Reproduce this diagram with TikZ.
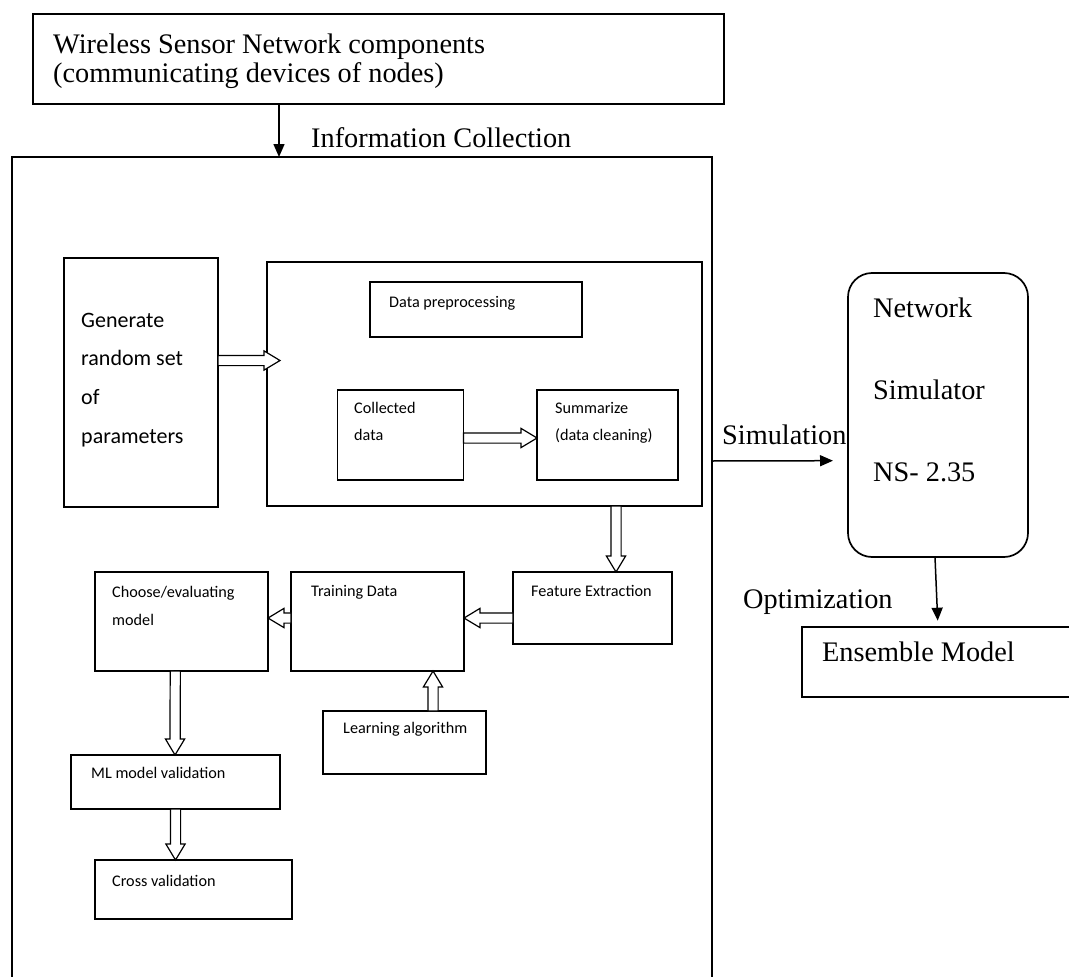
\documentclass[tikz,border=0pt]{standalone}
\usepackage{fontspec}
\setmainfont{Liberation Serif}
\newfontfamily\calib{Carlito}
\usetikzlibrary{arrows.meta,shapes.arrows,calc}

\begin{document}
\begin{tikzpicture}[x=1pt,y=-1pt,
  frame/.style={draw, line width=1.7pt, inner sep=0pt, outer sep=0pt, anchor=north west},
  lbl/.style={anchor=base west, inner sep=0pt},
  serif/.style={lbl, font=\fontsize{28.3}{32}\selectfont},
  bigsans/.style={lbl, font=\calib\fontsize{22}{25}\selectfont},
  smallsans/.style={lbl, font=\calib\fontsize{16.2}{19}\selectfont},
  arr/.style={line width=1.5pt, -{Triangle[length=13pt,width=11pt]}},
  hollowarrow/.style={single arrow, draw, fill=white, line width=1.2pt,
    single arrow head extend=4.5pt, single arrow head indent=0pt,
    single arrow tip angle=62, inner sep=0pt, outer sep=0pt, minimum width=1pt},
  hollow/.style={to path={
    let \p1=(\tikztostart), \p2=(\tikztotarget),
        \n1={atan2(\y2-\y1,\x2-\x1)},
        \n2={veclen(\x2-\x1,\y2-\y1)}
    in node[hollowarrow, minimum height=\n2, rotate=\n1, anchor=tail] at (\p1) {\rule{0pt}{9pt}}
  }}
]
\useasboundingbox[fill=white] (0,0) rectangle (1069,977);

% boxes
\node[frame, minimum width=691, minimum height=90] (wsn) at (33,14) {};
\node[frame, minimum width=700, minimum height=900] (main) at (12,157) {};
\node[frame, minimum width=154, minimum height=249] (gen) at (64,258) {};
\node[frame, minimum width=435, minimum height=244] (pre) at (267,262) {};
\node[frame, minimum width=212, minimum height=55] (dp) at (370,282) {};
\node[frame, minimum width=126, minimum height=90] (col) at (337.5,390) {};
\node[frame, minimum width=141, minimum height=90] (sum) at (537,390) {};
\node[frame, minimum width=159, minimum height=72] (feat) at (513,572) {};
\node[frame, minimum width=173, minimum height=99] (train) at (291,572) {};
\node[frame, minimum width=173, minimum height=99] (choose) at (95,572) {};
\node[frame, minimum width=163, minimum height=63] (learn) at (323,711) {};
\node[frame, minimum width=209, minimum height=54] (ml) at (71,755) {};
\node[frame, minimum width=197, minimum height=59] (cross) at (95,860) {};
\node[frame, minimum width=180, minimum height=284, rounded corners=24pt] (ns) at (848,273) {};
\node[frame, minimum width=300, minimum height=70] (ens) at (802,627) {};

% texts
\node[serif] (wsn1) at (53,53) {Wireless Sensor Network components};
\node[serif] (wsn2) at (53,82) {(communicating devices of nodes)};
\node[serif] (info) at (311,147) {Information Collection};
\node[bigsans] (gen1) at (81,327) {Generate};
\node[bigsans] (gen2) at (81,365) {random set};
\node[bigsans] (gen3) at (81,404) {of};
\node[bigsans] (gen4) at (81,443) {parameters};
\node[smallsans] (dpt) at (389,307) {Data preprocessing};
\node[smallsans] (col1) at (354,413) {Collected};
\node[smallsans] (col2) at (354,440) {data};
\node[smallsans] (sum1) at (555,413) {Summarize};
\node[smallsans] (sum2) at (555,440) {(data cleaning)};
\node[smallsans] (cho1) at (112,597) {Choose/evaluating};
\node[smallsans] (cho2) at (112,625) {model};
\node[smallsans] (trt) at (311,596) {Training Data};
\node[smallsans] (fet) at (531,596) {Feature Extraction};
\node[smallsans] (lat) at (343,733) {Learning algorithm};
\node[smallsans] (mlt) at (91,778) {ML model validation};
\node[smallsans] (crt) at (112,886) {Cross validation};
\node[serif] (ns1) at (873,317) {Network};
\node[serif] (ns2) at (873,399) {Simulator};
\node[serif] (ns3) at (873,481) {NS- 2.35};
\node[serif] (simt) at (722,444) {Simulation};
\node[serif] (optt) at (743,608) {Optimization};
\node[serif] (enst) at (822,661) {Ensemble Model};

% plain connectors
\draw[arr] ($(wsn.south west)+(246,0)$) -- ($(main.north west)+(267,0)$);
\draw[arr] ($(main.north east)+(0,304)$) -- ($(ns.west)+(-15,45.7)$);
\draw[arr] ($(ns.south)+(-3,0)$) -- ($(ens.north west)+(135.7,-6.3)$);

% hollow block arrows
\path ($(gen.north east)+(0,102.5)$) to[hollow] ($(pre.north west)+(13,98.5)$);
\path ($(col.north east)+(0,48)$) to[hollow] ($(sum.north west)+(0,48)$);
\path ($(pre.south)+(131.5,0)$) to[hollow] ($(feat.north)+(23.5,0)$);
\path ($(feat.north west)+(0,46)$) to[hollow] ($(train.north east)+(0,46)$);
\path ($(train.north west)+(0,46)$) to[hollow] ($(choose.north east)+(0,46)$);
\path ($(learn.north west)+(110,0)$) to[hollow] ($(train.south west)+(142,0)$);
\path ($(choose.south west)+(80.3,0)$) to[hollow] ($(ml.north west)+(104,0)$);
\path ($(ml.south west)+(104.5,0)$) to[hollow] ($(cross.north west)+(80.5,0)$);
\end{tikzpicture}
\end{document}
